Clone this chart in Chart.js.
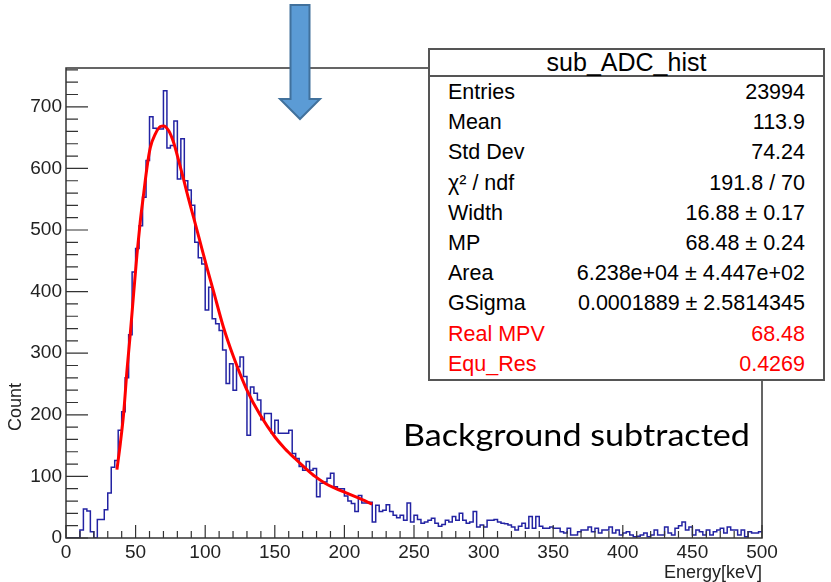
<!DOCTYPE html>
<html>
<head>
<meta charset="utf-8">
<script src="https://cdn.jsdelivr.net/npm/chart.js@4.4.1/dist/chart.umd.min.js"></script>
<style>
  html, body { margin: 0; padding: 0; background: #fff; }
  #wrap { position: relative; width: 831px; height: 582px; overflow: hidden; }
  #plot { position: absolute; left: 0; top: 0; }
  .stats { position: absolute; left: 428px; top: 48px; width: 397px; box-sizing: border-box;
           border: 2px solid #555; background: #fff; color: #000;
           font-family: 'Liberation Sans', Arial, sans-serif; font-size: 21.5px; }
  .stats .title { height: 25px; line-height: 25px; text-align: center; font-size: 25px;
                  border-bottom: 2px solid #555; }
  .stats .row { display: flex; justify-content: space-between; height: 30.2px; line-height: 30.2px;
                padding: 0 18px; white-space: nowrap; }
  .stats .row.red { color: #ff0000; }
</style>
</head>
<body>
<div id="wrap">
  <canvas id="plot" width="831" height="582"></canvas>
  <div class="stats" id="stats"></div>
</div>
<script>
// histogram: 200 bins of 2.5 keV from 0 to 500
const binWidth = 2.5;
const counts = [
    0, 0, 0, 0, 13, 47, 44, 10, 0, 30,
    30, 46, 73, 115, 126, 175, 205, 260, 330, 432,
    470, 507, 553, 613, 684, 665, 664, 664, 726, 633,
    637, 677, 583, 648, 580, 565, 540, 480, 455, 445,
    370, 407, 356, 348, 337, 305, 251, 283, 240, 278,
    294, 262, 167, 245, 235, 224, 192, 202, 202, 170,
    191, 170, 170, 170, 175, 137, 129, 116, 110, 124,
    110, 113, 67, 89, 91, 97, 105, 83, 80, 80,
    68, 60, 56, 43, 69, 57, 57, 58, 26, 53,
    43, 45, 54, 43, 37, 33, 37, 29, 57, 26,
    37, 30, 24, 26, 29, 32, 24, 19, 22, 29,
    26, 35, 29, 40, 29, 24, 26, 43, 18, 21,
    18, 29, 29, 30, 26, 24, 23, 21, 18, 13,
    19, 24, 16, 35, 16, 35, 19, 16, 16, 18,
    16, 16, 10, 8, 16, 5, 5, 10, 13, 13,
    18, 10, 16, 8, 13, 13, 18, 8, 13, 5,
    8, 10, 5, 2, 3, 5, 8, 2, 5, 13,
    5, 5, 18, 8, 5, 16, 20, 26, 13, 18,
    5, 13, 10, 5, 13, 5, 10, 13, 16, 8,
    18, 13, 13, 5, 13, 2, 10, 8, 8, 10
];

// Landau fit curve
const fitEnergy = [36.6, 39, 41.4, 43.8, 46.2, 48.6, 51, 53.4, 55.8, 58.2, 60.6, 64.2, 67.8, 70.2,
    73.8, 77.3, 80.9, 84.5, 88, 91.7, 97.7, 101, 105.8, 113, 120.2, 129.8, 139.4, 150.1,
    157.3, 164.5, 171.7, 178.9, 186.1, 193.2, 200.4, 210, 220];
const fitCount = [111, 153, 202, 272, 332, 397, 461, 515, 559, 602, 634, 656, 668, 669,
    661, 642, 613, 582, 551, 520, 469, 441, 402, 343, 295, 241, 200, 164,
    145, 129, 114, 100, 89, 81, 74, 65, 55];

const xTickValues = [0, 50, 100, 150, 200, 250, 300, 350, 400, 450, 500];
const yTickValues = [0, 100, 200, 300, 400, 500, 600, 700];
const yMax = 763;

const statLabels = ['Entries', 'Mean', 'Std Dev', 'χ² / ndf', 'Width', 'MP', 'Area', 'GSigma', 'Real MPV', 'Equ_Res'];
const statValues = ['23994', '113.9', '74.24', '191.8 / 70', '16.88 ± 0.17', '68.48 ± 0.24',
    '6.238e+04 ± 4.447e+02', '0.0001889 ± 2.5814345', '68.48', '0.4269'];
const statRed = [false, false, false, false, false, false, false, false, true, true];

const FONT = "'Liberation Sans', Arial, sans-serif";

(function buildStats() {
    const box = document.getElementById('stats');
    let html = '<div class="title">sub_ADC_hist</div>';
    statLabels.forEach(function (lab, i) {
        html += '<div class="row' + (statRed[i] ? ' red' : '') + '"><span>' + lab +
            '</span><span>' + statValues[i] + '</span></div>';
    });
    box.innerHTML = html;
})();

const histPoints = counts.map(function (c, i) { return { x: i * binWidth, y: c }; });
histPoints.push({ x: counts.length * binWidth, y: counts[counts.length - 1] });

const fitPoints = fitEnergy.map(function (e, i) { return { x: e, y: fitCount[i] }; });

const decorations = {
    id: 'decorations',
    afterDatasetsDraw(chart) {
        const ctx = chart.ctx;
        const a = chart.chartArea;
        const x = chart.scales.x;
        const y = chart.scales.y;
        ctx.save();

        // frame + inward ticks
        ctx.strokeStyle = '#333';
        ctx.lineWidth = 1.5;
        ctx.strokeRect(a.left, a.top, a.right - a.left, a.bottom - a.top);
        ctx.beginPath();
        ctx.lineWidth = 1.2;
        for (let v = 0; v <= 500; v += 10) {
            const px = x.getPixelForValue(v);
            const len = v % 50 === 0 ? 13 : 7;
            ctx.moveTo(px, a.bottom);
            ctx.lineTo(px, a.bottom - len);
        }
        for (let v = 0; v <= yMax; v += 20) {
            const py = y.getPixelForValue(v);
            const len = v % 100 === 0 ? 22 : 12;
            ctx.moveTo(a.left, py);
            ctx.lineTo(a.left + len, py);
        }
        ctx.stroke();

        // y axis title
        ctx.fillStyle = '#222';
        ctx.font = '18px ' + FONT;
        ctx.textAlign = 'center';
        ctx.textBaseline = 'middle';
        ctx.save();
        ctx.translate(16, 407);
        ctx.rotate(-Math.PI / 2);
        ctx.fillText('Count', 0, 0);
        ctx.restore();

        // annotation, stretched to the reference width
        const note = 'Background subtracted';
        ctx.fillStyle = '#000';
        ctx.font = '31px Lato, "Open Sans", sans-serif';
        ctx.textAlign = 'left';
        ctx.textBaseline = 'alphabetic';
        const w = ctx.measureText(note).width;
        ctx.save();
        ctx.translate(403, 446);
        ctx.scale(347 / w, 1);
        ctx.fillText(note, 0, 0);
        ctx.restore();

        // blue arrow
        const cx = 300;
        ctx.beginPath();
        ctx.moveTo(cx - 9.5, 5);
        ctx.lineTo(cx + 9.5, 5);
        ctx.lineTo(cx + 9.5, 99);
        ctx.lineTo(cx + 20, 99);
        ctx.lineTo(cx, 119);
        ctx.lineTo(cx - 20, 99);
        ctx.lineTo(cx - 9.5, 99);
        ctx.closePath();
        ctx.fillStyle = '#5b9bd5';
        ctx.fill();
        ctx.strokeStyle = '#41719c';
        ctx.lineWidth = 2;
        ctx.stroke();

        ctx.restore();
    }
};

new Chart(document.getElementById('plot'), {
    type: 'line',
    data: {
        datasets: [
            {
                label: 'fit',
                data: fitPoints,
                borderColor: '#ff0000',
                borderWidth: 3,
                pointRadius: 0,
                cubicInterpolationMode: 'monotone',
                fill: false,
                order: 0
            },
            {
                label: 'sub_ADC_hist',
                data: histPoints,
                borderColor: '#2323a3',
                borderWidth: 1.5,
                pointRadius: 0,
                stepped: true,
                fill: false,
                order: 1
            }
        ]
    },
    options: {
        responsive: false,
        animation: false,
        devicePixelRatio: 1,
        layout: { padding: { left: 0, top: 68, right: 69, bottom: 0 } },
        plugins: { legend: { display: false }, tooltip: { enabled: false } },
        scales: {
            x: {
                type: 'linear',
                min: 0,
                max: 500,
                afterBuildTicks: function (s) { s.ticks = xTickValues.map(function (v) { return { value: v }; }); },
                afterFit: function (s) { s.height = 44; },
                grid: { display: false, drawTicks: false },
                border: { display: false },
                ticks: { color: '#222', font: { family: FONT, size: 19 }, padding: 3, maxRotation: 0, autoSkip: false },
                title: { display: true, text: 'Energy[keV]', align: 'end', color: '#222',
                         font: { family: FONT, size: 18, lineHeight: 1 }, padding: 0 }
            },
            y: {
                type: 'linear',
                min: 0,
                max: yMax,
                afterBuildTicks: function (s) { s.ticks = yTickValues.map(function (v) { return { value: v }; }); },
                afterFit: function (s) { s.width = 66; },
                grid: { display: false, drawTicks: false },
                border: { display: false },
                ticks: { color: '#222', font: { family: FONT, size: 19 }, padding: 4 }
            }
        }
    },
    plugins: [decorations]
});
</script>
</body>
</html>
